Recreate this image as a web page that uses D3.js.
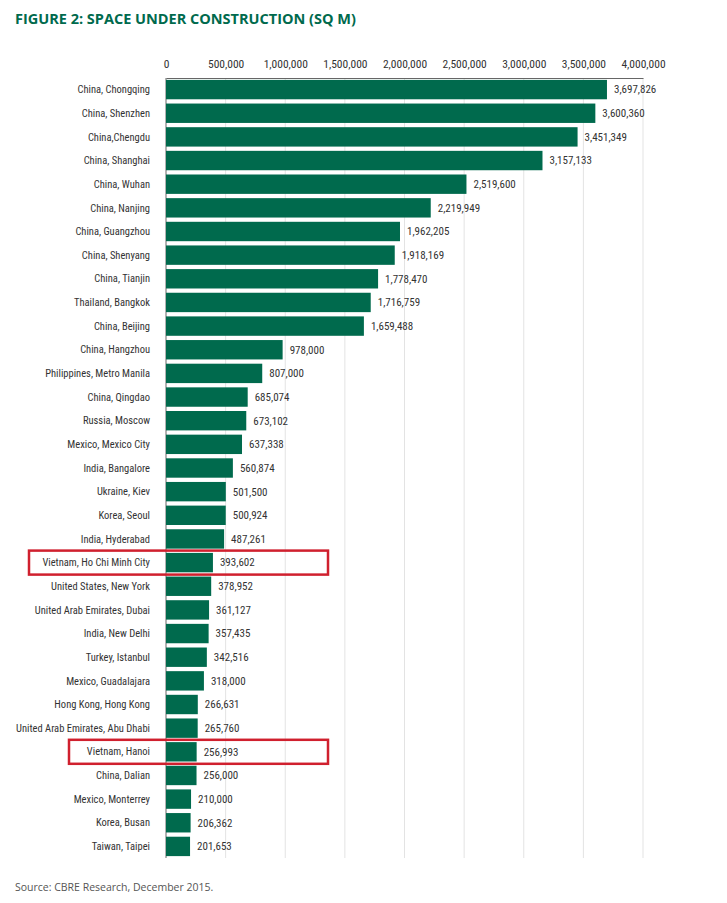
<!DOCTYPE html>
<html><head><meta charset="utf-8">
<script src="https://cdn.jsdelivr.net/npm/d3@7"></script>
<style>body{margin:0;background:#fff}text{font-family:"Liberation Sans Narrow","Roboto Condensed","DejaVu Sans Condensed",sans-serif}</style>
</head><body>
<svg id="c" width="727" height="903"></svg>
<script>
const categories = ["China, Chongqing","China, Shenzhen","China,Chengdu","China, Shanghai","China, Wuhan","China, Nanjing","China, Guangzhou","China, Shenyang","China, Tianjin","Thailand, Bangkok","China, Beijing","China, Hangzhou","Philippines, Metro Manila","China, Qingdao","Russia, Moscow","Mexico, Mexico City","India, Bangalore","Ukraine, Kiev","Korea, Seoul","India, Hyderabad","Vietnam, Ho Chi Minh City","United States, New York","United Arab Emirates, Dubai","India, New Delhi","Turkey, Istanbul","Mexico, Guadalajara","Hong Kong, Hong Kong","United Arab Emirates, Abu Dhabi","Vietnam, Hanoi","China, Dalian","Mexico, Monterrey","Korea, Busan","Taiwan, Taipei"];
const values = [3697826,3600360,3451349,3157133,2519600,2219949,1962205,1918169,1778470,1716759,1659488,978000,807000,685074,673102,637338,560874,501500,500924,487261,393602,378952,361127,357435,342516,318000,266631,265760,256993,256000,210000,206362,201653];
const tickValues = [0,500000,1000000,1500000,2000000,2500000,3000000,3500000,4000000];
const highlighted = ["Vietnam, Ho Chi Minh City","Vietnam, Hanoi"];

const svg = d3.select("#c");
const green = "#006a4d";
const x = d3.scaleLinear().domain([0,4000000]).range([166,643]);
const y = d3.scaleBand().domain(categories).range([78,858]).paddingInner(0.18).paddingOuter(0.08);
const fmt = d3.format(",");

svg.append("text").attr("x",15).attr("y",24).attr("fill",green)
  .style("font-family","'Open Sans','DejaVu Sans',sans-serif").style("font-weight","bold").style("font-size","14.5px")
  .text("FIGURE 2: SPACE UNDER CONSTRUCTION (SQ M)");

svg.append("g").selectAll("line").data(tickValues.slice(1)).join("line")
  .attr("x1",d=>x(d)).attr("x2",d=>x(d)).attr("y1",78).attr("y2",858)
  .attr("stroke","#e3e3e3").attr("stroke-width",1);

const ax = svg.append("g").attr("transform","translate(0,78)")
  .call(d3.axisTop(x).tickValues(tickValues).tickFormat(fmt).tickSize(0).tickPadding(10));
ax.select(".domain").attr("stroke","#666");
ax.selectAll("text").attr("fill","#333").style("font-size","11.5px");
svg.append("line").attr("x1",166).attr("x2",166).attr("y1",78).attr("y2",858).attr("stroke","#666");

svg.append("g").selectAll("rect").data(values).join("rect")
  .attr("x",x(0)).attr("y",(d,i)=>y(categories[i])).attr("height",y.bandwidth())
  .attr("width",d=>x(d)-x(0)).attr("fill",green);

svg.append("g").selectAll("text").data(values).join("text")
  .attr("x",d=>x(d)+7).attr("y",(d,i)=>y(categories[i])+y.bandwidth()/2).attr("dy","0.35em")
  .attr("fill","#333").style("font-size","11px").text(d=>fmt(d));

svg.append("g").selectAll("text").data(categories).join("text")
  .attr("x",150).attr("y",d=>y(d)+y.bandwidth()/2).attr("dy","0.35em").attr("text-anchor","end")
  .attr("fill","#333").style("font-size","10.5px").text(d=>d);

const boxLeft = {"Vietnam, Ho Chi Minh City":29,"Vietnam, Hanoi":69};
svg.append("g").selectAll("rect").data(highlighted).join("rect")
  .attr("x",d=>boxLeft[d]).attr("width",d=>328-boxLeft[d])
  .attr("y",d=>y(d)+y.bandwidth()/2-12).attr("height",24)
  .attr("fill","none").attr("stroke","#d0202e").attr("stroke-width",2.5);

svg.append("text").attr("x",15).attr("y",891).attr("fill","#555")
  .style("font-family","'Open Sans','DejaVu Sans',sans-serif").style("font-size","10.5px")
  .text("Source: CBRE Research, December 2015.");
</script>
</body></html>
